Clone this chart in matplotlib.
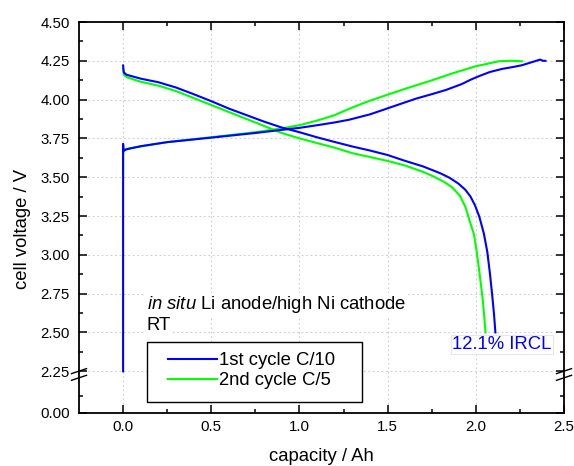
import numpy as np
import matplotlib.pyplot as plt
from matplotlib.patches import Rectangle
from matplotlib.legend_handler import HandlerLine2D

plt.rcParams['font.family'] = ['Liberation Sans', 'DejaVu Sans']
plt.rcParams['mathtext.fontset'] = 'custom'
plt.rcParams['mathtext.rm'] = 'Liberation Sans'
plt.rcParams['mathtext.it'] = 'Liberation Sans:italic'

# 1st cycle C/10 (blue)
cap_chg_1 = [0.0, 0.0, 0.003, 0.02, 0.1, 0.25, 0.5, 0.75, 0.9, 1.0, 1.1, 1.2, 1.28, 1.4, 1.49,
             1.58, 1.66, 1.75, 1.83, 1.92, 1.97, 2.02, 2.08, 2.15, 2.21, 2.26, 2.3, 2.34, 2.365, 2.38, 2.395]
v_chg_1 = [2.25, 3.715, 3.67, 3.68, 3.70, 3.726, 3.755, 3.785, 3.805, 3.818, 3.835, 3.853, 3.87, 3.905, 3.94,
           3.975, 4.006, 4.035, 4.062, 4.1, 4.128, 4.152, 4.178, 4.198, 4.21, 4.221, 4.235, 4.249, 4.258,
           4.25, 4.25]
cap_dis_1 = [0.0, 0.004, 0.02, 0.1, 0.2, 0.3, 0.4, 0.5, 0.6, 0.7, 0.8, 0.9, 1.0, 1.1, 1.2, 1.3, 1.4, 1.5,
             1.6, 1.7, 1.8, 1.85, 1.9, 1.94, 1.97, 1.995, 2.02, 2.045, 2.065, 2.08, 2.092, 2.103, 2.111]
v_dis_1 = [4.22, 4.175, 4.16, 4.135, 4.112, 4.078, 4.035, 3.99, 3.942, 3.9, 3.858, 3.82, 3.79, 3.757, 3.727,
           3.698, 3.672, 3.643, 3.605, 3.57, 3.525, 3.497, 3.46, 3.42, 3.375, 3.32, 3.245, 3.14, 3.02, 2.88,
           2.75, 2.62, 2.50]

# 2nd cycle C/5 (green)
cap_chg_2 = [0.0, 0.0, 0.005, 0.02, 0.25, 0.5, 0.75, 0.9, 1.0, 1.1, 1.2, 1.28, 1.38, 1.49, 1.6,
             1.75, 1.87, 2.0, 2.07, 2.13, 2.2, 2.262]
v_chg_2 = [3.52, 3.65, 3.675, 3.683, 3.726, 3.758, 3.79, 3.815, 3.835, 3.865, 3.9, 3.94, 3.985, 4.028, 4.07,
           4.124, 4.17, 4.215, 4.232, 4.247, 4.25, 4.247]
cap_dis_2 = [0.0, 0.005, 0.02, 0.1, 0.2, 0.3, 0.4, 0.5, 0.6, 0.7, 0.8, 0.9, 1.0, 1.1, 1.2, 1.3, 1.4, 1.5,
             1.6, 1.7, 1.76, 1.82, 1.866, 1.91, 1.942, 1.97, 1.989, 2.005, 2.017, 2.03, 2.04, 2.048, 2.055]
v_dis_2 = [4.2, 4.16, 4.145, 4.115, 4.09, 4.055, 4.01, 3.965, 3.92, 3.875, 3.83, 3.785, 3.75, 3.72, 3.69,
           3.655, 3.63, 3.605, 3.575, 3.535, 3.505, 3.47, 3.435, 3.38, 3.306, 3.2, 3.134, 3.02, 2.918, 2.8,
           2.702, 2.6, 2.50]

series_labels = ['1st cycle C/10', '2nd cycle C/5']
series_colors = ['#0000ff', '#00ff00']
x_ticks = [0.0, 0.5, 1.0, 1.5, 2.0, 2.5]
y_ticks = [0.0, 2.25, 2.5, 2.75, 3.0, 3.25, 3.5, 3.75, 4.0, 4.25, 4.5]
y_minor = [0.125, 2.375, 2.625, 2.875, 3.125, 3.375, 3.625, 3.875, 4.125, 4.375]


# broken y axis: 0-0.25 squeezed at bottom, 0.25-2.25 collapsed into a small gap
def fwd(v):
    v = np.asarray(v, dtype=float)
    return np.where(v >= 2.25, v - 2.25 + 0.267,
                    np.where(v <= 0.25, v * 0.86, 0.215 + (v - 0.25) * 0.026))


def inv(u):
    u = np.asarray(u, dtype=float)
    return np.where(u >= 0.267, u + 2.25 - 0.267,
                    np.where(u <= 0.215, u / 0.86, 0.25 + (u - 0.215) / 0.026))


fig = plt.figure(figsize=(5.74, 4.66), dpi=100)
ax = fig.add_axes([79 / 574, 53.3 / 466, 485 / 574, 390.7 / 466])
ax.set_yscale('function', functions=(fwd, inv))
ax.set_xlim(-0.25, 2.5)
ax.set_ylim(0, 4.5)

ax.set_xticks(x_ticks)
ax.set_xticks([0.25, 0.75, 1.25, 1.75, 2.25], minor=True)
ax.set_xticklabels([f'{t:.1f}' for t in x_ticks])
ax.set_yticks(y_ticks)
ax.set_yticks(y_minor, minor=True)
ax.set_yticklabels([f'{t:.2f}' for t in y_ticks])

ax.tick_params(which='both', direction='in', top=True, right=True, width=1.1,
               labelsize=10.8, colors='black')
ax.tick_params(which='major', length=5.5)
ax.tick_params(which='minor', length=3)
ax.tick_params(axis='y', pad=6.5)
ax.tick_params(axis='x', pad=5.5)
for s in ax.spines.values():
    s.set_linewidth(1.3)

ax.grid(which='major', color='#cccccc', linestyle=(0, (1.5, 2.5)), linewidth=0.8)
ax.set_axisbelow(True)

ax.plot(cap_chg_1, v_chg_1, color=series_colors[0], lw=1.5, label=series_labels[0], zorder=3)
ax.plot(cap_dis_1, v_dis_1, color=series_colors[0], lw=1.5, zorder=3)
ax.plot(cap_chg_2, v_chg_2, color=series_colors[1], lw=1.5, label=series_labels[1], zorder=2.9)
ax.plot(cap_dis_2, v_dis_2, color=series_colors[1], lw=1.5, zorder=2.9)

# break marks on both y spines
dx, dy = 7.5 / 485, 2.5 / 390.7
for xs in (0, 1):
    for yb in (0.1064, 0.0893):
        ax.plot([xs - dx, xs + dx], [yb - dy, yb + dy], transform=ax.transAxes,
                color='black', lw=1.0, clip_on=False, zorder=6)

ax.set_xlabel('capacity / Ah', fontsize=13.3)
ax.set_ylabel('cell voltage / V', fontsize=13.3)
ax.xaxis.set_label_coords(0.5, -0.1126)
ax.xaxis.label.set_va('center')
ax.yaxis.set_label_coords(-0.1175, 0.47)
ax.yaxis.label.set_va('center')

ax.text(0.1396, 0.2654, r'$\mathit{in\ situ}$ Li anode/high Ni cathode', transform=ax.transAxes,
        fontsize=13.3, va='baseline', ha='left', zorder=4,
        bbox=dict(boxstyle='square,pad=0.05', fc='white', ec='none'))
ax.text(0.1396, 0.2117, 'RT', transform=ax.transAxes, fontsize=13.3, va='baseline', ha='left',
        zorder=4, bbox=dict(boxstyle='square,pad=0.05', fc='white', ec='none'))
ax.text(0.872, 0.1746, '12.1% IRCL', transform=ax.transAxes, fontsize=13.3, color='#0000ff',
        va='center', ha='center', zorder=4,
        bbox=dict(boxstyle='square,pad=0.08', fc='white', ec='#e6e6e6', lw=0.8))

# legend frame
ax.add_patch(Rectangle((0.1396, 0.0282), 0.4433, 0.1536, transform=ax.transAxes,
                       fc='white', ec='black', lw=1.0, zorder=4.5))
leg = ax.legend(loc='center left', bbox_to_anchor=(0.1835, 0.1071), frameon=False,
                fontsize=13.3, borderpad=0, borderaxespad=0, handlelength=2.65,
                handletextpad=0.12, labelspacing=0.16,
                handler_map={plt.Line2D: HandlerLine2D(marker_pad=0)})
leg.set_zorder(5)

fig.savefig('out.png', dpi=100)
